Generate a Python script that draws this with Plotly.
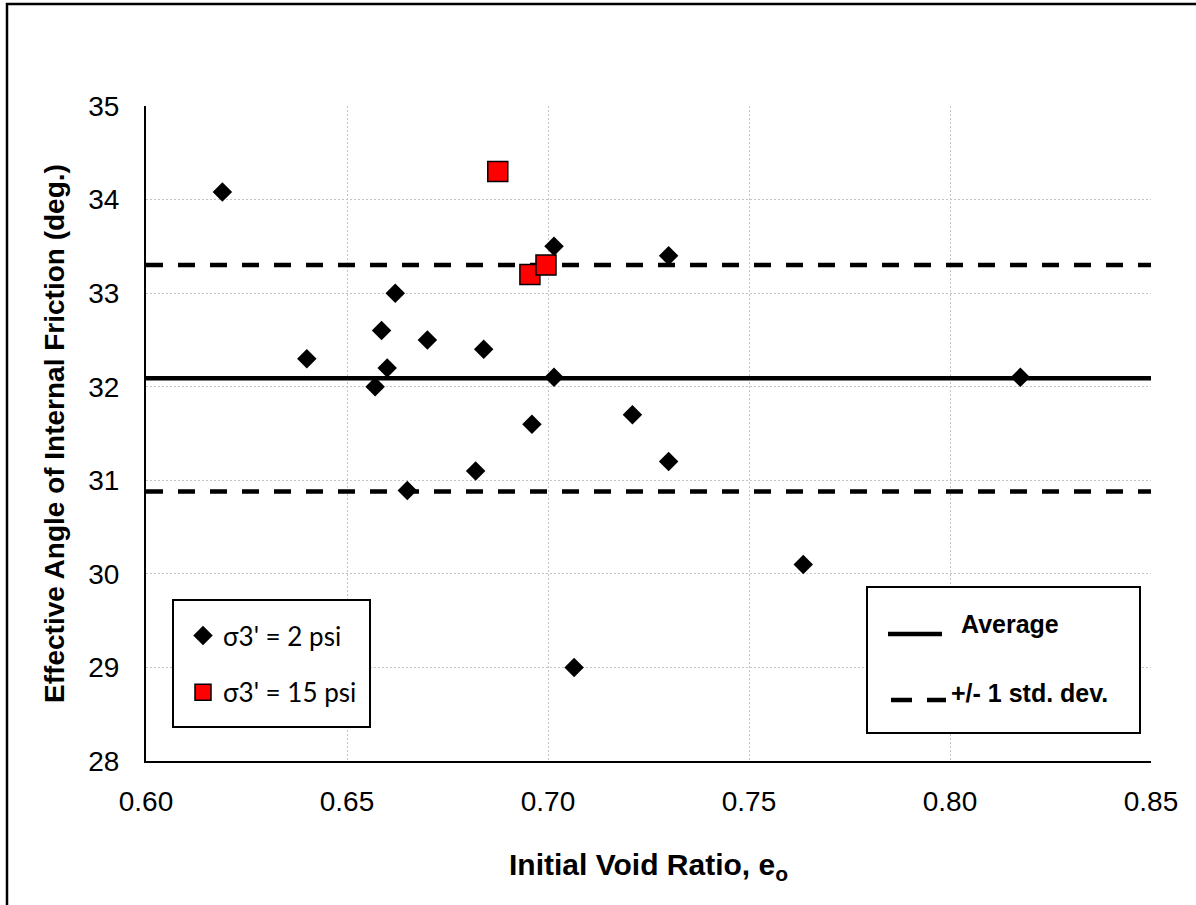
import plotly.graph_objects as go

# ---- data ----
e0_2psi = [0.619, 0.640, 0.657, 0.6586, 0.660, 0.662, 0.665, 0.670, 0.682, 0.684,
           0.696, 0.7015, 0.7015, 0.7065, 0.721, 0.730, 0.730, 0.7635, 0.8175]
phi_2psi = [34.08, 32.3, 32.0, 32.6, 32.2, 33.0, 30.89, 32.5, 31.1, 32.4,
            31.6, 33.5, 32.1, 29.0, 31.7, 31.2, 33.4, 30.1, 32.1]

e0_15psi = [0.6875, 0.6955, 0.6995]
phi_15psi = [34.3, 33.2, 33.3]

line_x = [0.60, 0.85]
avg_phi = 32.09
std_phi = 1.21

x_ticks = [0.60, 0.65, 0.70, 0.75, 0.80, 0.85]
y_ticks = [28, 29, 30, 31, 32, 33, 34, 35]

# ---- layout geometry (pixels) ----
W, H = 1196, 905
L, R, T, B = 146, 1151, 106, 761
PW, PH = R - L, B - T


def px(x):
    return (x - L) / PW


def py(y):
    return (B - y) / PH


AX_FONT = "Liberation Sans, Arial, sans-serif"

fig = go.Figure()

# average and +/- 1 std lines
fig.add_trace(go.Scatter(x=line_x, y=[avg_phi, avg_phi], mode="lines",
                         line=dict(color="black", width=4.5),
                         name="Average", showlegend=False, hoverinfo="skip"))
fig.add_trace(go.Scatter(x=line_x, y=[avg_phi + std_phi] * 2, mode="lines",
                         line=dict(color="black", width=4.5, dash="17px,15px"),
                         name="+/- 1 std. dev.", showlegend=False, hoverinfo="skip"))
fig.add_trace(go.Scatter(x=line_x, y=[avg_phi - std_phi] * 2, mode="lines",
                         line=dict(color="black", width=4.5, dash="17px,15px"),
                         name="- 1 std. dev.", showlegend=False, hoverinfo="skip"))

# data points
fig.add_trace(go.Scatter(x=e0_2psi, y=phi_2psi, mode="markers",
                         name="σ3' = 2 psi", legendgroup="a",
                         marker=dict(symbol="diamond", size=15, color="black",
                                     line=dict(color="black", width=0))))
fig.add_trace(go.Scatter(x=e0_15psi, y=phi_15psi, mode="markers",
                         name="σ3' = 15 psi", legendgroup="b",
                         marker=dict(symbol="square", size=20, color="#ff0000",
                                     line=dict(color="black", width=1.5))))

shapes = []
# outer chart border
shapes.append(dict(type="rect", xref="paper", yref="paper",
                   x0=px(7), x1=px(1205), y0=py(915), y1=py(4),
                   line=dict(color="black", width=2.5), fillcolor="rgba(0,0,0,0)",
                   layer="above"))
# left legend box
shapes.append(dict(type="rect", xref="paper", yref="paper",
                   x0=px(173), x1=px(370), y0=py(727), y1=py(600),
                   line=dict(color="black", width=2), fillcolor="white", layer="above"))
# right legend box
shapes.append(dict(type="rect", xref="paper", yref="paper",
                   x0=px(867), x1=px(1140), y0=py(733), y1=py(587),
                   line=dict(color="black", width=2), fillcolor="white", layer="above"))
# right legend glyphs
shapes.append(dict(type="line", xref="paper", yref="paper",
                   x0=px(888), x1=px(942), y0=py(634), y1=py(634),
                   line=dict(color="black", width=4.5), layer="above"))
shapes.append(dict(type="line", xref="paper", yref="paper",
                   x0=px(891), x1=px(946), y0=py(700), y1=py(700),
                   line=dict(color="black", width=4.5, dash="21px,15px"), layer="above"))

annotations = [
    dict(xref="paper", yref="paper", x=px(959), y=py(624), xanchor="left", yanchor="middle",
         text="<b>Average</b>", showarrow=False,
         font=dict(family=AX_FONT, size=25, color="black")),
    dict(xref="paper", yref="paper", x=px(949), y=py(693), xanchor="left", yanchor="middle",
         text="<b>+/- 1 std. dev.</b>", showarrow=False,
         font=dict(family=AX_FONT, size=25, color="black")),
]

grid_kw = dict(showgrid=True, gridcolor="#c4c4c4", gridwidth=1, griddash="2px,2px",
               zeroline=False, showline=True, linecolor="black", linewidth=2,
               ticks="", tickfont=dict(family=AX_FONT, size=28, color="black"))

fig.update_layout(
    width=W, height=H,
    margin=dict(l=L, r=W - R, t=T, b=H - B, pad=0),
    paper_bgcolor="white", plot_bgcolor="white",
    font=dict(family=AX_FONT, color="black"),
    shapes=shapes,
    annotations=annotations,
    showlegend=True,
    legend=dict(x=px(183), y=py(612), xanchor="left", yanchor="top",
                bgcolor="rgba(0,0,0,0)", borderwidth=0,
                font=dict(family="Lato, Carlito, sans-serif", size=26, color="black"),
                traceorder="grouped", tracegroupgap=20, itemsizing="trace"),
    xaxis=dict(range=[0.60, 0.85], tickvals=x_ticks, tickformat=".2f",
               ticklabelstandoff=14,
               title=dict(text="<b>Initial Void Ratio, e<sub>o</sub></b>",
                          font=dict(family=AX_FONT, size=30, color="black"), standoff=38),
               **grid_kw),
    yaxis=dict(range=[28, 35], tickvals=y_ticks, ticklabelstandoff=19,
               title=dict(text="<b>Effective Angle of Internal Friction (deg.)</b>",
                          font=dict(family=AX_FONT, size=28, color="black"), standoff=15),
               **grid_kw),
)

fig.write_html("out.html", config={"displayModeBar": False},
               post_script="document.body.style.margin='0';")
